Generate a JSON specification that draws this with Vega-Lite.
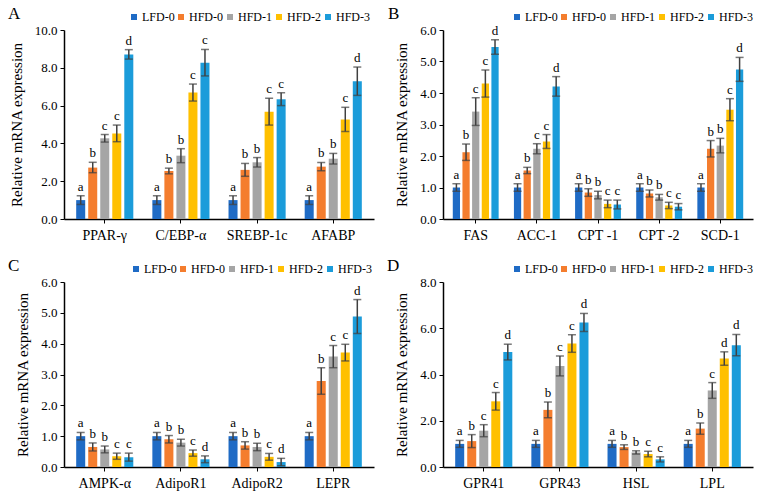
{
"$schema":"https://vega.github.io/schema/vega-lite/v6.json",
"background":"white",
"padding":{"left":8,"top":5,"right":3,"bottom":3},
"datasets":{"d":[
{"p":"A","g":"PPAR-γ","s":"LFD-0","v":1.0,"lo":0.77,"hi":1.23,"t":"a"},
{"p":"A","g":"PPAR-γ","s":"HFD-0","v":2.72,"lo":2.45,"hi":3.0,"t":"b"},
{"p":"A","g":"PPAR-γ","s":"HFD-1","v":4.27,"lo":4.07,"hi":4.47,"t":"c"},
{"p":"A","g":"PPAR-γ","s":"HFD-2","v":4.53,"lo":4.09,"hi":4.97,"t":"c"},
{"p":"A","g":"PPAR-γ","s":"HFD-3","v":8.71,"lo":8.46,"hi":8.96,"t":"d"},
{"p":"A","g":"C/EBP-α","s":"LFD-0","v":1.0,"lo":0.77,"hi":1.23,"t":"a"},
{"p":"A","g":"C/EBP-α","s":"HFD-0","v":2.54,"lo":2.39,"hi":2.69,"t":"b"},
{"p":"A","g":"C/EBP-α","s":"HFD-1","v":3.35,"lo":2.98,"hi":3.72,"t":"b"},
{"p":"A","g":"C/EBP-α","s":"HFD-2","v":6.69,"lo":6.24,"hi":7.14,"t":"c"},
{"p":"A","g":"C/EBP-α","s":"HFD-3","v":8.27,"lo":7.57,"hi":8.97,"t":"c"},
{"p":"A","g":"SREBP-1c","s":"LFD-0","v":1.0,"lo":0.77,"hi":1.23,"t":"a"},
{"p":"A","g":"SREBP-1c","s":"HFD-0","v":2.6,"lo":2.26,"hi":2.94,"t":"b"},
{"p":"A","g":"SREBP-1c","s":"HFD-1","v":3.0,"lo":2.75,"hi":3.25,"t":"b"},
{"p":"A","g":"SREBP-1c","s":"HFD-2","v":5.68,"lo":4.97,"hi":6.39,"t":"c"},
{"p":"A","g":"SREBP-1c","s":"HFD-3","v":6.34,"lo":6.0,"hi":6.68,"t":"c"},
{"p":"A","g":"AFABP","s":"LFD-0","v":1.0,"lo":0.77,"hi":1.23,"t":"a"},
{"p":"A","g":"AFABP","s":"HFD-0","v":2.77,"lo":2.55,"hi":2.99,"t":"b"},
{"p":"A","g":"AFABP","s":"HFD-1","v":3.19,"lo":2.91,"hi":3.47,"t":"b"},
{"p":"A","g":"AFABP","s":"HFD-2","v":5.27,"lo":4.63,"hi":5.91,"t":"c"},
{"p":"A","g":"AFABP","s":"HFD-3","v":7.29,"lo":6.54,"hi":8.04,"t":"d"},
{"p":"B","g":"FAS","s":"LFD-0","v":1.0,"lo":0.88,"hi":1.12,"t":"a"},
{"p":"B","g":"FAS","s":"HFD-0","v":2.12,"lo":1.86,"hi":2.38,"t":"b"},
{"p":"B","g":"FAS","s":"HFD-1","v":3.41,"lo":2.97,"hi":3.85,"t":"c"},
{"p":"B","g":"FAS","s":"HFD-2","v":4.3,"lo":3.87,"hi":4.73,"t":"c"},
{"p":"B","g":"FAS","s":"HFD-3","v":5.46,"lo":5.23,"hi":5.69,"t":"d"},
{"p":"B","g":"ACC-1","s":"LFD-0","v":1.0,"lo":0.88,"hi":1.12,"t":"a"},
{"p":"B","g":"ACC-1","s":"HFD-0","v":1.54,"lo":1.44,"hi":1.64,"t":"b"},
{"p":"B","g":"ACC-1","s":"HFD-1","v":2.23,"lo":2.07,"hi":2.39,"t":"c"},
{"p":"B","g":"ACC-1","s":"HFD-2","v":2.46,"lo":2.24,"hi":2.68,"t":"c"},
{"p":"B","g":"ACC-1","s":"HFD-3","v":4.21,"lo":3.9,"hi":4.52,"t":"d"},
{"p":"B","g":"CPT -1","s":"LFD-0","v":1.0,"lo":0.88,"hi":1.12,"t":"a"},
{"p":"B","g":"CPT -1","s":"HFD-0","v":0.84,"lo":0.72,"hi":0.96,"t":"b"},
{"p":"B","g":"CPT -1","s":"HFD-1","v":0.76,"lo":0.64,"hi":0.88,"t":"b"},
{"p":"B","g":"CPT -1","s":"HFD-2","v":0.48,"lo":0.36,"hi":0.6,"t":"c"},
{"p":"B","g":"CPT -1","s":"HFD-3","v":0.46,"lo":0.32,"hi":0.6,"t":"c"},
{"p":"B","g":"CPT -2","s":"LFD-0","v":1.0,"lo":0.88,"hi":1.12,"t":"a"},
{"p":"B","g":"CPT -2","s":"HFD-0","v":0.81,"lo":0.7,"hi":0.92,"t":"b"},
{"p":"B","g":"CPT -2","s":"HFD-1","v":0.69,"lo":0.6,"hi":0.78,"t":"b"},
{"p":"B","g":"CPT -2","s":"HFD-2","v":0.43,"lo":0.33,"hi":0.53,"t":"c"},
{"p":"B","g":"CPT -2","s":"HFD-3","v":0.39,"lo":0.29,"hi":0.49,"t":"c"},
{"p":"B","g":"SCD-1","s":"LFD-0","v":1.0,"lo":0.88,"hi":1.12,"t":"a"},
{"p":"B","g":"SCD-1","s":"HFD-0","v":2.23,"lo":1.97,"hi":2.49,"t":"b"},
{"p":"B","g":"SCD-1","s":"HFD-1","v":2.33,"lo":2.1,"hi":2.56,"t":"b"},
{"p":"B","g":"SCD-1","s":"HFD-2","v":3.47,"lo":3.12,"hi":3.82,"t":"c"},
{"p":"B","g":"SCD-1","s":"HFD-3","v":4.75,"lo":4.37,"hi":5.13,"t":"d"},
{"p":"C","g":"AMPK-α","s":"LFD-0","v":1.0,"lo":0.88,"hi":1.12,"t":"a"},
{"p":"C","g":"AMPK-α","s":"HFD-0","v":0.65,"lo":0.52,"hi":0.78,"t":"b"},
{"p":"C","g":"AMPK-α","s":"HFD-1","v":0.57,"lo":0.46,"hi":0.68,"t":"b"},
{"p":"C","g":"AMPK-α","s":"HFD-2","v":0.35,"lo":0.25,"hi":0.45,"t":"c"},
{"p":"C","g":"AMPK-α","s":"HFD-3","v":0.32,"lo":0.19,"hi":0.45,"t":"c"},
{"p":"C","g":"AdipoR1","s":"LFD-0","v":1.0,"lo":0.88,"hi":1.12,"t":"a"},
{"p":"C","g":"AdipoR1","s":"HFD-0","v":0.9,"lo":0.78,"hi":1.02,"t":"b"},
{"p":"C","g":"AdipoR1","s":"HFD-1","v":0.79,"lo":0.68,"hi":0.9,"t":"b"},
{"p":"C","g":"AdipoR1","s":"HFD-2","v":0.45,"lo":0.35,"hi":0.55,"t":"c"},
{"p":"C","g":"AdipoR1","s":"HFD-3","v":0.25,"lo":0.14,"hi":0.36,"t":"d"},
{"p":"C","g":"AdipoR2","s":"LFD-0","v":1.0,"lo":0.88,"hi":1.12,"t":"a"},
{"p":"C","g":"AdipoR2","s":"HFD-0","v":0.7,"lo":0.58,"hi":0.82,"t":"b"},
{"p":"C","g":"AdipoR2","s":"HFD-1","v":0.65,"lo":0.53,"hi":0.77,"t":"b"},
{"p":"C","g":"AdipoR2","s":"HFD-2","v":0.33,"lo":0.22,"hi":0.44,"t":"c"},
{"p":"C","g":"AdipoR2","s":"HFD-3","v":0.16,"lo":0.04,"hi":0.28,"t":"d"},
{"p":"C","g":"LEPR","s":"LFD-0","v":1.0,"lo":0.88,"hi":1.12,"t":"a"},
{"p":"C","g":"LEPR","s":"HFD-0","v":2.79,"lo":2.36,"hi":3.22,"t":"b"},
{"p":"C","g":"LEPR","s":"HFD-1","v":3.58,"lo":3.22,"hi":3.94,"t":"c"},
{"p":"C","g":"LEPR","s":"HFD-2","v":3.71,"lo":3.44,"hi":3.98,"t":"c"},
{"p":"C","g":"LEPR","s":"HFD-3","v":4.88,"lo":4.33,"hi":5.43,"t":"d"},
{"p":"D","g":"GPR41","s":"LFD-0","v":1.0,"lo":0.85,"hi":1.15,"t":"a"},
{"p":"D","g":"GPR41","s":"HFD-0","v":1.12,"lo":0.84,"hi":1.4,"t":"b"},
{"p":"D","g":"GPR41","s":"HFD-1","v":1.57,"lo":1.31,"hi":1.83,"t":"c"},
{"p":"D","g":"GPR41","s":"HFD-2","v":2.84,"lo":2.46,"hi":3.22,"t":"c"},
{"p":"D","g":"GPR41","s":"HFD-3","v":4.97,"lo":4.63,"hi":5.31,"t":"d"},
{"p":"D","g":"GPR43","s":"LFD-0","v":1.0,"lo":0.85,"hi":1.15,"t":"a"},
{"p":"D","g":"GPR43","s":"HFD-0","v":2.47,"lo":2.13,"hi":2.81,"t":"b"},
{"p":"D","g":"GPR43","s":"HFD-1","v":4.37,"lo":3.94,"hi":4.8,"t":"c"},
{"p":"D","g":"GPR43","s":"HFD-2","v":5.34,"lo":4.96,"hi":5.72,"t":"c"},
{"p":"D","g":"GPR43","s":"HFD-3","v":6.25,"lo":5.86,"hi":6.64,"t":"d"},
{"p":"D","g":"HSL","s":"LFD-0","v":1.0,"lo":0.85,"hi":1.15,"t":"a"},
{"p":"D","g":"HSL","s":"HFD-0","v":0.86,"lo":0.76,"hi":0.96,"t":"b"},
{"p":"D","g":"HSL","s":"HFD-1","v":0.63,"lo":0.56,"hi":0.7,"t":"b"},
{"p":"D","g":"HSL","s":"HFD-2","v":0.56,"lo":0.44,"hi":0.68,"t":"c"},
{"p":"D","g":"HSL","s":"HFD-3","v":0.33,"lo":0.22,"hi":0.44,"t":"c"},
{"p":"D","g":"LPL","s":"LFD-0","v":1.0,"lo":0.85,"hi":1.15,"t":"a"},
{"p":"D","g":"LPL","s":"HFD-0","v":1.66,"lo":1.42,"hi":1.9,"t":"b"},
{"p":"D","g":"LPL","s":"HFD-1","v":3.31,"lo":2.97,"hi":3.65,"t":"c"},
{"p":"D","g":"LPL","s":"HFD-2","v":4.69,"lo":4.4,"hi":4.98,"t":"d"},
{"p":"D","g":"LPL","s":"HFD-3","v":5.27,"lo":4.81,"hi":5.73,"t":"d"}
]},
"data":{"name":"d"},
"columns":2,
"spacing":{"row":63,"column":69},
"bounds":"flush",
"resolve":{"scale":{"x":"independent","y":"independent","color":"independent","xOffset":"independent"},"legend":{"color":"independent"}},
"concat":[
{
"width":310,"height":189,
"transform":[{"filter":"datum.p === 'A'"}],
"title":{"text":"A","anchor":"start","frame":"group","dx":-56,"dy":21,"offset":9,"fontSize":17,"font":"Liberation Serif","fontWeight":"normal","color":"#000"},
"encoding":{
"x":{"field":"g","type":"nominal","sort":null,"scale":{"paddingInner":0.25,"paddingOuter":0.16},"axis":{"title":null}},
"xOffset":{"field":"s","type":"nominal","sort":["LFD-0","HFD-0","HFD-1","HFD-2","HFD-3"],"scale":{"paddingInner":0.25,"paddingOuter":0}}
},
"layer":[
{"mark":{"type":"bar"},"encoding":{"y":{"field":"v","type":"quantitative","title":"Relative mRNA expression","scale":{"domain":[0,10],"nice":false},"axis":{"values":[0,2,4,6,8,10],"format":".1f","labelOverlap":false,"labelFlush":false}},
"color":{"field":"s","type":"nominal","sort":["LFD-0","HFD-0","HFD-1","HFD-2","HFD-3"],"scale":{"domain":["LFD-0","HFD-0","HFD-1","HFD-2","HFD-3"],"range":["#1f6bc5","#f47d2e","#a5a5a5","#ffc000","#1b9cda"]},
"legend":{"orient":"none","legendX":64,"legendY":-19,"direction":"horizontal","title":null,"symbolType":"square","symbolSize":36,"symbolStrokeWidth":0,"labelFont":"Liberation Serif","labelFontSize":12,"labelColor":"#000","labelOffset":2,"columnPadding":0,"padding":0}}}},
{"mark":{"type":"rule","color":"#404040","strokeWidth":1.5},"encoding":{"y":{"field":"lo","type":"quantitative","title":"Relative mRNA expression","scale":{"domain":[0,10],"nice":false},"axis":{"values":[0,2,4,6,8,10],"format":".1f","labelOverlap":false,"labelFlush":false}},"y2":{"field":"hi"}}},
{"mark":{"type":"tick","color":"#404040","size":8,"thickness":1.5},"encoding":{"y":{"field":"lo","type":"quantitative","title":"Relative mRNA expression","scale":{"domain":[0,10],"nice":false},"axis":{"values":[0,2,4,6,8,10],"format":".1f","labelOverlap":false,"labelFlush":false}}}},
{"mark":{"type":"tick","color":"#404040","size":8,"thickness":1.5},"encoding":{"y":{"field":"hi","type":"quantitative","title":"Relative mRNA expression","scale":{"domain":[0,10],"nice":false},"axis":{"values":[0,2,4,6,8,10],"format":".1f","labelOverlap":false,"labelFlush":false}}}},
{"mark":{"type":"text","baseline":"bottom","dy":-2,"fontSize":13,"font":"Liberation Serif","color":"#000"},"encoding":{"y":{"field":"hi","type":"quantitative","title":"Relative mRNA expression","scale":{"domain":[0,10],"nice":false},"axis":{"values":[0,2,4,6,8,10],"format":".1f","labelOverlap":false,"labelFlush":false}},"text":{"field":"t"}}}
]
},
{
"width":310,"height":189,
"transform":[{"filter":"datum.p === 'B'"}],
"title":{"text":"B","anchor":"start","frame":"group","dx":-55,"dy":21,"offset":9,"fontSize":17,"font":"Liberation Serif","fontWeight":"normal","color":"#000"},
"encoding":{
"x":{"field":"g","type":"nominal","sort":null,"scale":{"paddingInner":0.25,"paddingOuter":0.16},"axis":{"title":null}},
"xOffset":{"field":"s","type":"nominal","sort":["LFD-0","HFD-0","HFD-1","HFD-2","HFD-3"],"scale":{"paddingInner":0.25,"paddingOuter":0}}
},
"layer":[
{"mark":{"type":"bar"},"encoding":{"y":{"field":"v","type":"quantitative","title":"Relative mRNA expression","scale":{"domain":[0,6],"nice":false},"axis":{"values":[0,1,2,3,4,5,6],"format":".1f","labelOverlap":false,"labelFlush":false}},
"color":{"field":"s","type":"nominal","sort":["LFD-0","HFD-0","HFD-1","HFD-2","HFD-3"],"scale":{"domain":["LFD-0","HFD-0","HFD-1","HFD-2","HFD-3"],"range":["#1f6bc5","#f47d2e","#a5a5a5","#ffc000","#1b9cda"]},
"legend":{"orient":"none","legendX":68,"legendY":-19,"direction":"horizontal","title":null,"symbolType":"square","symbolSize":36,"symbolStrokeWidth":0,"labelFont":"Liberation Serif","labelFontSize":12,"labelColor":"#000","labelOffset":2,"columnPadding":0,"padding":0}}}},
{"mark":{"type":"rule","color":"#404040","strokeWidth":1.5},"encoding":{"y":{"field":"lo","type":"quantitative","title":"Relative mRNA expression","scale":{"domain":[0,6],"nice":false},"axis":{"values":[0,1,2,3,4,5,6],"format":".1f","labelOverlap":false,"labelFlush":false}},"y2":{"field":"hi"}}},
{"mark":{"type":"tick","color":"#404040","size":8,"thickness":1.5},"encoding":{"y":{"field":"lo","type":"quantitative","title":"Relative mRNA expression","scale":{"domain":[0,6],"nice":false},"axis":{"values":[0,1,2,3,4,5,6],"format":".1f","labelOverlap":false,"labelFlush":false}}}},
{"mark":{"type":"tick","color":"#404040","size":8,"thickness":1.5},"encoding":{"y":{"field":"hi","type":"quantitative","title":"Relative mRNA expression","scale":{"domain":[0,6],"nice":false},"axis":{"values":[0,1,2,3,4,5,6],"format":".1f","labelOverlap":false,"labelFlush":false}}}},
{"mark":{"type":"text","baseline":"bottom","dy":-2,"fontSize":13,"font":"Liberation Serif","color":"#000"},"encoding":{"y":{"field":"hi","type":"quantitative","title":"Relative mRNA expression","scale":{"domain":[0,6],"nice":false},"axis":{"values":[0,1,2,3,4,5,6],"format":".1f","labelOverlap":false,"labelFlush":false}},"text":{"field":"t"}}}
]
},
{
"width":310,"height":185,
"transform":[{"filter":"datum.p === 'C'"}],
"title":{"text":"C","anchor":"start","frame":"group","dx":-56,"dy":21,"offset":9,"fontSize":17,"font":"Liberation Serif","fontWeight":"normal","color":"#000"},
"encoding":{
"x":{"field":"g","type":"nominal","sort":null,"scale":{"paddingInner":0.25,"paddingOuter":0.16},"axis":{"title":null}},
"xOffset":{"field":"s","type":"nominal","sort":["LFD-0","HFD-0","HFD-1","HFD-2","HFD-3"],"scale":{"paddingInner":0.25,"paddingOuter":0}}
},
"layer":[
{"mark":{"type":"bar"},"encoding":{"y":{"field":"v","type":"quantitative","title":"Relative mRNA expression","scale":{"domain":[0,6],"nice":false},"axis":{"values":[0,1,2,3,4,5,6],"format":".1f","labelOverlap":false,"labelFlush":false}},
"color":{"field":"s","type":"nominal","sort":["LFD-0","HFD-0","HFD-1","HFD-2","HFD-3"],"scale":{"domain":["LFD-0","HFD-0","HFD-1","HFD-2","HFD-3"],"range":["#1f6bc5","#f47d2e","#a5a5a5","#ffc000","#1b9cda"]},
"legend":{"orient":"none","legendX":66,"legendY":-19,"direction":"horizontal","title":null,"symbolType":"square","symbolSize":36,"symbolStrokeWidth":0,"labelFont":"Liberation Serif","labelFontSize":12,"labelColor":"#000","labelOffset":2,"columnPadding":0,"padding":0}}}},
{"mark":{"type":"rule","color":"#404040","strokeWidth":1.5},"encoding":{"y":{"field":"lo","type":"quantitative","title":"Relative mRNA expression","scale":{"domain":[0,6],"nice":false},"axis":{"values":[0,1,2,3,4,5,6],"format":".1f","labelOverlap":false,"labelFlush":false}},"y2":{"field":"hi"}}},
{"mark":{"type":"tick","color":"#404040","size":8,"thickness":1.5},"encoding":{"y":{"field":"lo","type":"quantitative","title":"Relative mRNA expression","scale":{"domain":[0,6],"nice":false},"axis":{"values":[0,1,2,3,4,5,6],"format":".1f","labelOverlap":false,"labelFlush":false}}}},
{"mark":{"type":"tick","color":"#404040","size":8,"thickness":1.5},"encoding":{"y":{"field":"hi","type":"quantitative","title":"Relative mRNA expression","scale":{"domain":[0,6],"nice":false},"axis":{"values":[0,1,2,3,4,5,6],"format":".1f","labelOverlap":false,"labelFlush":false}}}},
{"mark":{"type":"text","baseline":"bottom","dy":-2,"fontSize":13,"font":"Liberation Serif","color":"#000"},"encoding":{"y":{"field":"hi","type":"quantitative","title":"Relative mRNA expression","scale":{"domain":[0,6],"nice":false},"axis":{"values":[0,1,2,3,4,5,6],"format":".1f","labelOverlap":false,"labelFlush":false}},"text":{"field":"t"}}}
]
},
{
"width":310,"height":185,
"transform":[{"filter":"datum.p === 'D'"}],
"title":{"text":"D","anchor":"start","frame":"group","dx":-56,"dy":21,"offset":9,"fontSize":17,"font":"Liberation Serif","fontWeight":"normal","color":"#000"},
"encoding":{
"x":{"field":"g","type":"nominal","sort":null,"scale":{"paddingInner":0.25,"paddingOuter":0.16},"axis":{"title":null}},
"xOffset":{"field":"s","type":"nominal","sort":["LFD-0","HFD-0","HFD-1","HFD-2","HFD-3"],"scale":{"paddingInner":0.25,"paddingOuter":0}}
},
"layer":[
{"mark":{"type":"bar"},"encoding":{"y":{"field":"v","type":"quantitative","title":"Relative mRNA expression","scale":{"domain":[0,8],"nice":false},"axis":{"values":[0,2,4,6,8],"format":".1f","labelOverlap":false,"labelFlush":false}},
"color":{"field":"s","type":"nominal","sort":["LFD-0","HFD-0","HFD-1","HFD-2","HFD-3"],"scale":{"domain":["LFD-0","HFD-0","HFD-1","HFD-2","HFD-3"],"range":["#1f6bc5","#f47d2e","#a5a5a5","#ffc000","#1b9cda"]},
"legend":{"orient":"none","legendX":68,"legendY":-19,"direction":"horizontal","title":null,"symbolType":"square","symbolSize":36,"symbolStrokeWidth":0,"labelFont":"Liberation Serif","labelFontSize":12,"labelColor":"#000","labelOffset":2,"columnPadding":0,"padding":0}}}},
{"mark":{"type":"rule","color":"#404040","strokeWidth":1.5},"encoding":{"y":{"field":"lo","type":"quantitative","title":"Relative mRNA expression","scale":{"domain":[0,8],"nice":false},"axis":{"values":[0,2,4,6,8],"format":".1f","labelOverlap":false,"labelFlush":false}},"y2":{"field":"hi"}}},
{"mark":{"type":"tick","color":"#404040","size":8,"thickness":1.5},"encoding":{"y":{"field":"lo","type":"quantitative","title":"Relative mRNA expression","scale":{"domain":[0,8],"nice":false},"axis":{"values":[0,2,4,6,8],"format":".1f","labelOverlap":false,"labelFlush":false}}}},
{"mark":{"type":"tick","color":"#404040","size":8,"thickness":1.5},"encoding":{"y":{"field":"hi","type":"quantitative","title":"Relative mRNA expression","scale":{"domain":[0,8],"nice":false},"axis":{"values":[0,2,4,6,8],"format":".1f","labelOverlap":false,"labelFlush":false}}}},
{"mark":{"type":"text","baseline":"bottom","dy":-2,"fontSize":13,"font":"Liberation Serif","color":"#000"},"encoding":{"y":{"field":"hi","type":"quantitative","title":"Relative mRNA expression","scale":{"domain":[0,8],"nice":false},"axis":{"values":[0,2,4,6,8],"format":".1f","labelOverlap":false,"labelFlush":false}},"text":{"field":"t"}}}
]
}
],
"config":{
"font":"Liberation Serif",
"view":{"stroke":null},
"axis":{"grid":false,"domainColor":"#000","domainWidth":1.5,"tickColor":"#000","tickSize":4,"labelColor":"#000","labelFont":"Liberation Serif","titleFont":"Liberation Serif","titleColor":"#000","titleFontWeight":"normal"},
"axisX":{"labelAngle":0,"labelFontSize":14,"labelPadding":5},
"axisY":{"labelFontSize":13,"titleFontSize":15,"titlePadding":10,"labelPadding":3,"titleFont":"Liberation Serif","labelFont":"Liberation Serif"}
}
}
